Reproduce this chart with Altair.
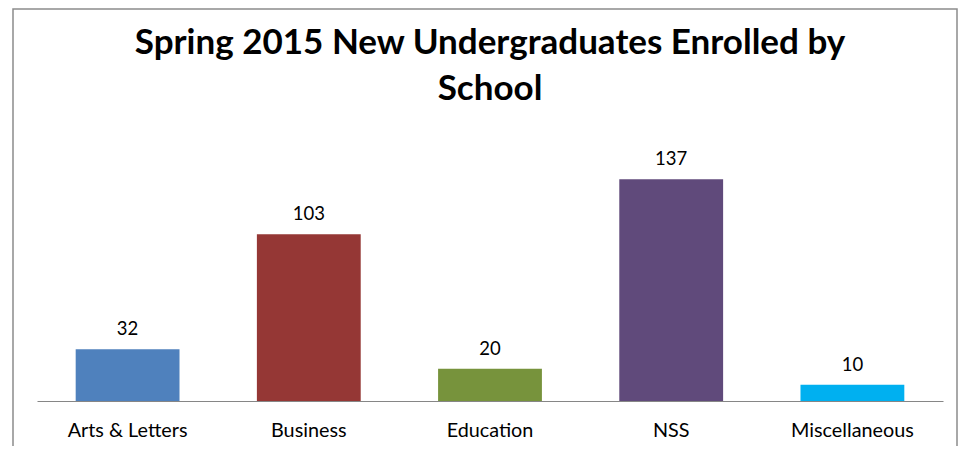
import altair as alt
import pandas as pd

schools = ["Arts & Letters", "Business", "Education", "NSS", "Miscellaneous"]
enrolled = [32, 103, 20, 137, 10]
colors = ["#4F81BD", "#953735", "#77933C", "#604A7B", "#00B0F0"]

df = pd.DataFrame({"school": schools, "enrolled": enrolled, "color": colors})
frame_df = pd.DataFrame({"k": [0]})

x = alt.X(
    "school:N",
    sort=schools,
    title=None,
    scale=alt.Scale(paddingInner=0.427, paddingOuter=0.2135),
    axis=alt.Axis(
        labelAngle=0,
        labelFont="Lato",
        labelFontSize=19.8,
        labelColor="#000000",
        labelPadding=19,
        ticks=False,
        grid=False,
        domainColor="#868686",
        domainWidth=1.2,
    ),
)
y = alt.Y("enrolled:Q", scale=alt.Scale(domain=[0, 160], nice=False, zero=True), axis=None)

border = alt.Chart(frame_df).mark_rect(
    fill="white", fillOpacity=0, stroke="#8c8c8c", strokeWidth=1.5
).encode(x=alt.value(-24), x2=alt.value(920), y=alt.value(-133), y2=alt.value(400))

bars = alt.Chart(df).mark_bar().encode(
    x=x, y=y, color=alt.Color("color:N", scale=None)
)
labels = alt.Chart(df).mark_text(
    baseline="alphabetic", dy=-14, font="Lato", fontSize=18.5, color="#000000"
).encode(x=x, y=y, text="enrolled:Q")

chart = (
    alt.layer(border, bars, labels)
    .properties(
        width=906,
        height=259,
        autosize=alt.AutoSizeParams(type="none"),
        padding={"left": 29, "top": 134, "right": 16, "bottom": 45},
        title=alt.TitleParams(
            ["Spring 2015 New Undergraduates Enrolled by", "School"],
            font="Lato",
            fontSize=35,
            fontWeight="bold",
            color="#000000",
            lineHeight=46,
            anchor="middle",
            baseline="alphabetic",
            offset=-127,
        ),
    )
    .configure_view(stroke=None)
)

chart.save("out.html", embed_options={"renderer": "svg", "actions": False})
